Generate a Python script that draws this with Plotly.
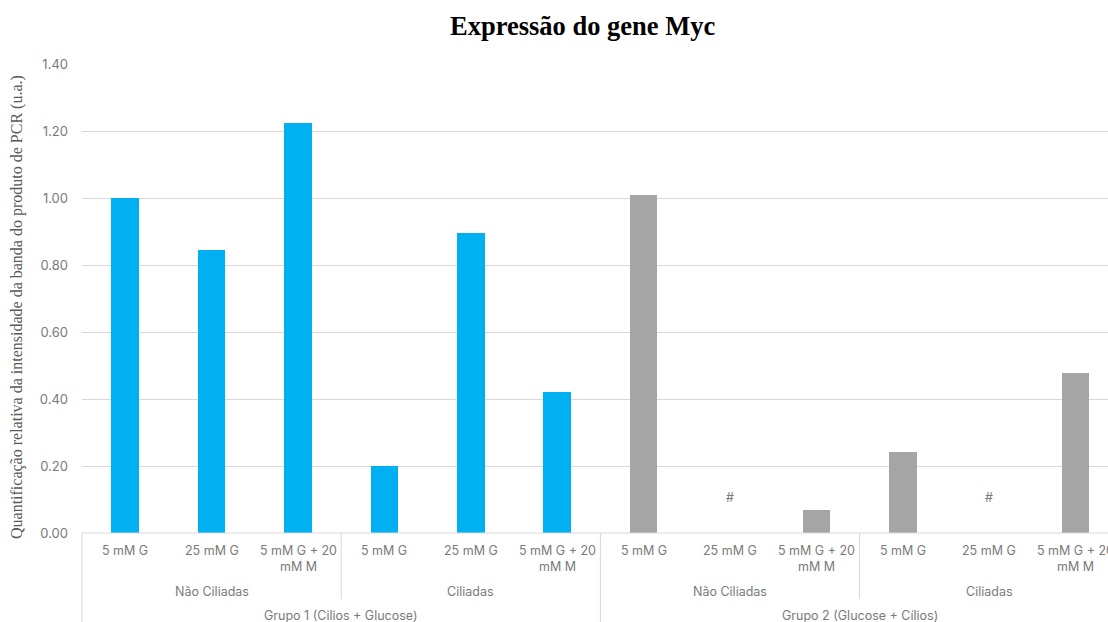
import plotly.graph_objects as go

# Expression values (a.u.) for each condition, in axis order
conditions = ["5 mM G", "25 mM G", "5 mM G + 20<br>mM M"] * 4
cilia_groups = ["Não Ciliadas", "Ciliadas", "Não Ciliadas", "Ciliadas"]
main_groups = ["Grupo 1 (Cilios + Glucose)", "Grupo 2 (Glucose + Cílios)"]
values = [1.00, 0.845, 1.225, 0.20, 0.895, 0.42,
          1.01, 0.0, 0.07, 0.243, 0.0, 0.478]
not_detected = [False, False, False, False, False, False,
                False, True, False, False, True, False]
bar_colors = ["#00B0F0"] * 6 + ["#A5A5A5"] * 6
y_ticks = [0.0, 0.2, 0.4, 0.6, 0.8, 1.0, 1.2, 1.4]

W, H = 1108, 622
PL, PT, PB = 82, 64, 89          # plot-area margins (px)
plot_h = H - PT - PB
cat_w = 86.4                      # width of one category (px)
x_end = (W - PL) / cat_w - 0.5    # right edge of visible range in data units

label_color = "#7A7A7A"
axis_font = dict(family="Inter, Roboto, sans-serif", size=12.5, color=label_color)
tick_font = dict(family="Inter, Roboto, sans-serif", size=13, color=label_color)
grid_color = "#D9D9D9"

idx = list(range(len(values)))
fig = go.Figure(go.Bar(
    x=idx, y=values, width=0.32,
    marker=dict(color=bar_colors, line=dict(width=0)),
    hoverinfo="skip",
))


def py(pix):
    """Paper y for a pixel row measured from the top."""
    return (H - PB - pix) / plot_h


def px(data_x):
    """Paper x for a data x position."""
    return (data_x + 0.5) / (x_end + 0.5)


annotations = []
# category labels
for i, c in enumerate(conditions):
    annotations.append(dict(x=i, xref="x", y=py(541), yref="paper",
                            text=c, showarrow=False, yanchor="top",
                            font=axis_font, align="center"))
# second-level labels
for k, g in enumerate(cilia_groups):
    annotations.append(dict(x=3 * k + 1, xref="x", y=py(591), yref="paper",
                            text=g, showarrow=False, yanchor="middle",
                            font=axis_font))
# top-level labels
for k, g in enumerate(main_groups):
    annotations.append(dict(x=6 * k + 2.5, xref="x", y=py(615), yref="paper",
                            text=g, showarrow=False, yanchor="middle",
                            font=axis_font))
# "#" marks for conditions without signal
for i, nd in enumerate(not_detected):
    if nd:
        annotations.append(dict(x=i, xref="x", y=0.105, yref="y", text="#",
                                showarrow=False, font=axis_font))
# title
annotations.append(dict(x=(582 - PL) / (W - PL), xref="paper", y=py(26), yref="paper",
                        xanchor="center", yanchor="middle",
                        text="<b>Expressão do gene Myc</b>", showarrow=False,
                        font=dict(family="Liberation Serif, Times New Roman, serif",
                                  size=26.5, color="black")))
# y-axis title
annotations.append(dict(x=-(PL - 17) / (W - PL), xref="paper", y=py(307), yref="paper",
                        xanchor="center", yanchor="middle",
                        text="Quantificação relativa da intensidade da banda do produto de PCR (u.a.)",
                        textangle=-90, showarrow=False,
                        font=dict(family="Liberation Serif, Times New Roman, serif",
                                  size=16, color="#595959")))

shapes = [dict(type="line", xref="paper", yref="paper", x0=0, x1=1, y0=0, y1=0,
               line=dict(color=grid_color, width=1))]
# vertical separators of the multi-level category axis
for b, bottom in [(-0.5, H), (2.5, 599), (5.5, H), (8.5, 599)]:
    shapes.append(dict(type="line", xref="paper", yref="paper",
                       x0=px(b), x1=px(b), y0=0, y1=py(bottom),
                       line=dict(color=grid_color, width=1)))

fig.update_layout(
    width=W, height=H,
    margin=dict(l=PL, r=0, t=PT, b=PB),
    paper_bgcolor="white", plot_bgcolor="white",
    showlegend=False,
    bargap=0,
    xaxis=dict(range=[-0.5, x_end], showticklabels=False, showgrid=False,
               zeroline=False, showline=False, ticks=""),
    yaxis=dict(range=[0, 1.4], tickvals=y_ticks, tickformat=".2f",
               showgrid=True, gridcolor=grid_color, gridwidth=1,
               zeroline=False, showline=False, ticks="",
               tickfont=tick_font, ticklabelstandoff=13),
    annotations=annotations,
    shapes=shapes,
)

fig.write_html("out.html")
